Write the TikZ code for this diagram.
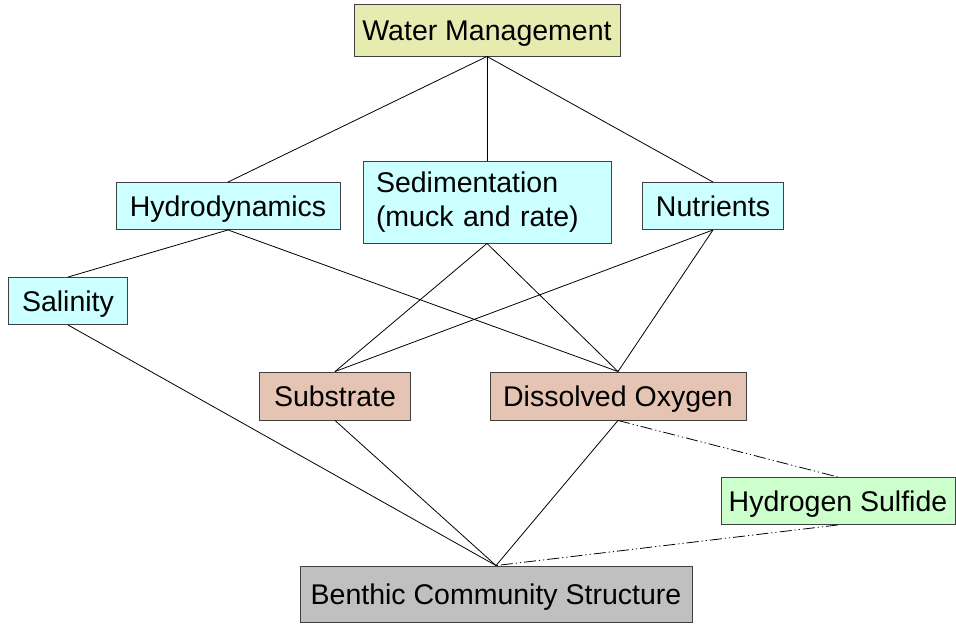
\documentclass[tikz,border=0pt]{standalone}
\usepackage{fontspec}
\setmainfont{Liberation Sans}
\definecolor{wmc}{RGB}{230,236,176}
\definecolor{cyc}{RGB}{204,255,255}
\definecolor{brc}{RGB}{230,196,180}
\definecolor{grc}{RGB}{204,255,204}
\definecolor{gyc}{RGB}{192,192,192}
\tikzset{
  box/.style={draw=black!75, line width=0.9pt, inner sep=0pt, anchor=center,
    font=\fontsize{28.5}{34}\selectfont},
  onebox/.style={box, text height=24pt, text depth=3pt},
  link/.style={line width=0.8pt, black},
  dashdotdot/.style={line width=0.8pt, black, dash pattern=on 12pt off 3pt on 1.2pt off 3pt on 1.2pt off 3pt}
}
\begin{document}
\begin{tikzpicture}[x=1pt,y=-1pt]
\useasboundingbox (0,0) rectangle (956,642);
\node[onebox, fill=wmc, minimum width=266pt, minimum height=52pt] (wm) at (487,30) {Water Management};
\node[onebox, fill=cyc, minimum width=224pt, minimum height=47pt] (hyd) at (228,206) {Hydrodynamics};
\node[box, fill=cyc, minimum width=248pt, minimum height=82pt, text width=222pt, align=left] (sed) at (487,202) {Sedimentation\\(muck and rate)};
\node[onebox, fill=cyc, minimum width=141pt, minimum height=47pt] (nut) at (713,206) {Nutrients};
\node[onebox, fill=cyc, minimum width=119pt, minimum height=47pt] (sal) at (68,301) {Salinity};
\node[onebox, fill=brc, minimum width=151pt, minimum height=48pt] (sub) at (335,396) {Substrate};
\node[onebox, fill=brc, minimum width=256pt, minimum height=48pt] (do) at (618,396) {Dissolved Oxygen};
\node[onebox, fill=grc, minimum width=234pt, minimum height=47pt] (hs) at (838,501) {Hydrogen Sulfide};
\node[onebox, fill=gyc, minimum width=392pt, minimum height=56pt] (bcs) at (496,594) {Benthic Community Structure};
\draw[link] (wm.south) -- (hyd.north);
\draw[link] (wm.south) -- (sed.north);
\draw[link] (wm.south) -- (nut.north);
\draw[link] (hyd.south) -- (sal.north);
\draw[link] (hyd.south) -- (do.north);
\draw[link] (sed.south) -- (sub.north);
\draw[link] (sed.south) -- (do.north);
\draw[link] (nut.south) -- (sub.north);
\draw[link] (nut.south) -- (do.north);
\draw[link] (sal.south) -- (bcs.north);
\draw[link] (sub.south) -- (bcs.north);
\draw[link] (do.south) -- (bcs.north);
\draw[dashdotdot] (do.south) -- (hs.north);
\draw[dashdotdot] (hs.south) -- (bcs.north);
\end{tikzpicture}
\end{document}
